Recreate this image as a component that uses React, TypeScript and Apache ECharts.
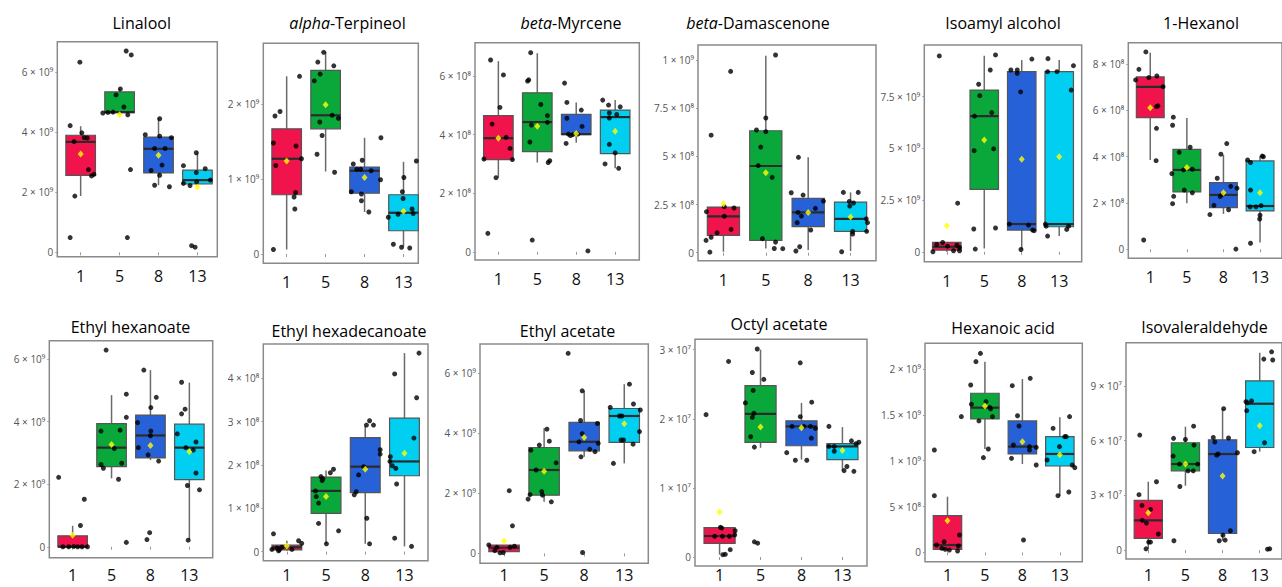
import React, { useEffect, useRef } from 'react';
import * as echarts from 'echarts';

// ---------- data ----------
const categories = ['1', '5', '8', '13'];

// each box: [lower whisker, Q1, median, Q3, upper whisker]; points: [group position + jitter, value]
// Linalool (x 1e9)
const linaloolBox = [[1.87, 2.56, 3.67, 3.89, 4.19], [4.57, 4.64, 4.66, 5.33, 5.43], [2.23, 2.64, 3.44, 3.83, 4.47], [2.22, 2.27, 2.40, 2.73, 3.31]];
const linaloolMean = [3.27, 4.57, 3.23, 2.17];
const linaloolPts = [
  [0.73, 0.49], [0.98, 6.32], [0.73, 4.21], [0.85, 1.87], [0.83, 3.68], [1.03, 3.97], [1.09, 3.81], [1.17, 3.80], [1.2, 2.75], [1.28, 2.54], [1.34, 2.59],
  [2.17, 6.69], [2.3, 6.56], [1.91, 5.23], [2.02, 5.43], [2.11, 4.83], [1.57, 4.63], [1.7, 4.65], [1.83, 4.66], [2.21, 4.57], [2.28, 2.75], [2.2, 0.49],
  [3.03, 4.44], [2.66, 3.91], [3.03, 3.86], [2.9, 3.45], [3.17, 3.45], [3.33, 3.81], [2.81, 2.72], [3.03, 2.56], [3.09, 2.90], [2.9, 2.23], [3.28, 2.18],
  [3.97, 3.31], [3.64, 2.88], [3.97, 2.65], [4.2, 2.78], [4.33, 2.40], [3.64, 2.29], [3.81, 2.22], [3.98, 2.34], [3.85, 0.22], [3.94, 0.17],
];
const linaloolTicks = [0, 2, 4, 6];

// alpha-Terpineol (x 1e9)
const terpineolBox = [[0.06, 0.79, 1.27, 1.67, 2.37], [1.10, 1.67, 1.85, 2.45, 2.70], [0.56, 0.81, 1.11, 1.16, 1.55], [0.10, 0.31, 0.55, 0.79, 1.23]];
const terpineolMean = [1.24, 1.99, 1.02, 0.57];
const terpineolPts = [
  [1.33, 2.37], [0.7, 1.84], [0.83, 1.90], [0.66, 1.48], [1.24, 1.44], [0.72, 1.18], [1.38, 1.27], [1.23, 0.82], [1.19, 0.76], [1.21, 0.60], [0.66, 0.06],
  [1.95, 2.69], [1.8, 2.56], [2.21, 2.51], [1.86, 2.40], [1.71, 2.31], [2.17, 1.85], [2.33, 1.81], [1.85, 1.76], [1.91, 1.58], [1.78, 1.33], [2.23, 1.09],
  [3.42, 1.55], [2.94, 1.25], [2.71, 1.20], [2.9, 1.13], [3.17, 1.11], [3.41, 0.99], [2.66, 0.83], [2.92, 0.80], [2.92, 0.71], [3.11, 0.56], [2.8, 1.13],
  [4.33, 1.24], [4.01, 1.02], [3.97, 0.83], [3.99, 0.74], [3.61, 0.49], [3.86, 0.53], [4.22, 0.60], [4.25, 0.54], [3.74, 0.13], [3.95, 0.09], [4.16, 0.08],
];
const terpineolTicks = [0, 1, 2];

// beta-Myrcene (x 1e8)
const myrceneBox = [[2.53, 3.15, 3.88, 4.65, 6.51], [3.05, 3.42, 4.43, 5.43, 6.78], [3.72, 4.00, 4.02, 4.69, 5.10], [2.85, 3.35, 4.60, 4.84, 5.18]];
const myrceneMean = [3.88, 4.29, 4.04, 4.12];
const myrcenePts = [
  [0.8, 6.55], [1.13, 6.04], [1.04, 4.93], [0.84, 4.36], [1.2, 3.91], [1.3, 3.53], [0.63, 3.17], [1.36, 3.15], [0.94, 2.53], [0.73, 0.63],
  [1.83, 6.80], [1.75, 5.83], [1.78, 5.87], [2.09, 5.03], [2.26, 4.65], [2.26, 4.42], [1.85, 4.33], [1.81, 3.75], [2.28, 3.05], [2.32, 3.11], [1.87, 0.40],
  [2.7, 5.76], [2.76, 5.10], [3.13, 4.84], [2.76, 4.56], [3.15, 4.28], [2.8, 4.02], [2.91, 4.00], [3.04, 4.02], [2.85, 3.97], [2.74, 3.70], [3.3, 0.03],
  [3.68, 5.18], [3.83, 5.01], [4.13, 4.95], [3.85, 4.74], [4.04, 4.69], [3.85, 4.57], [3.85, 3.67], [4.0, 3.38], [3.74, 3.0], [4.09, 2.85],
];
const myrceneTicks = [0, 2, 4, 6];

// beta-Damascenone (x 1e8)
const damascenoneBox = [[0.05, 0.90, 1.89, 2.37, 2.39], [0.22, 0.64, 4.50, 6.33, 10.22], [0.14, 1.35, 2.09, 2.82, 4.95], [0.09, 1.11, 1.76, 2.63, 3.13]];
const damascenoneMean = [2.54, 4.15, 2.09, 1.85];
const damascenonePts = [
  [0.71, 6.1], [1.17, 9.41], [0.6, 2.13], [1.02, 2.39], [1.25, 2.32], [1.02, 1.89], [0.85, 1.04], [1.18, 1.21], [0.71, 0.80], [0.59, 0.64], [0.68, 0.03],
  [2.23, 10.26], [2.0, 6.99], [1.78, 6.37], [2.0, 6.28], [1.88, 5.48], [1.82, 4.52], [2.15, 3.91], [1.92, 0.73], [2.23, 0.55], [2.2, 0.22], [2.4, 0.21],
  [2.77, 4.95], [2.6, 3.11], [2.88, 2.99], [2.76, 2.09], [2.84, 1.90], [3.17, 2.30], [3.36, 2.68], [2.74, 1.56], [3.06, 1.18], [2.8, 0.31], [2.71, 0.09],
  [3.83, 3.13], [4.18, 3.13], [3.97, 2.66], [4.07, 2.58], [3.98, 2.42], [4.37, 1.76], [4.4, 1.56], [4.38, 1.11], [4.05, 1.11], [4.05, 0.97], [3.79, 0.05],
];
const damascenoneTicks = [0, 2.5, 5, 7.5, 10];

// Isoamyl alcohol (x 1e9)
const isoamylBox = [[0.0, 0.08, 0.24, 0.45, 0.45], [0.16, 3.02, 6.56, 7.82, 9.48], [0.11, 1.05, 1.34, 8.71, 9.27], [0.76, 1.21, 1.34, 8.71, 9.27]];
const isoamylMean = [1.26, 5.40, 4.47, 4.60];
const isoamylPts = [
  [0.8, 9.47], [1.29, 2.35], [0.73, 0.35], [0.89, 0.45], [1.02, 0.27], [1.27, 0.32], [1.34, 0.21], [1.18, 0.05], [1.34, 0.05], [0.63, 0.0],
  [2.3, 9.52], [2.16, 8.79], [1.85, 8.10], [1.88, 7.55], [1.74, 6.56], [2.2, 6.73], [2.25, 4.98], [1.73, 4.89], [2.3, 1.15], [1.72, 1.10], [1.76, 0.13],
  [3.27, 9.32], [2.71, 8.79], [2.88, 8.79], [2.88, 8.63], [2.97, 7.73], [2.67, 1.34], [3.18, 1.29], [3.29, 1.05], [3.33, 1.02], [2.98, 0.11],
  [3.7, 9.34], [4.38, 9.0], [3.69, 8.71], [3.94, 8.71], [4.32, 7.82], [3.63, 1.34], [3.65, 1.24], [4.25, 1.24], [4.2, 1.08], [3.69, 0.76],
];
const isoamylTicks = [0, 2.5, 5, 7.5];

// 1-Hexanol (x 1e8)
const hexanolBox = [[3.86, 5.69, 7.02, 7.45, 8.50], [1.99, 2.48, 3.43, 4.32, 5.68], [1.53, 1.80, 2.35, 2.88, 4.08], [0.29, 1.66, 1.87, 3.82, 4.03]];
const hexanolMean = [6.12, 3.54, 2.44, 2.44];
const hexanolPts = [
  [0.88, 8.53], [0.69, 7.78], [0.6, 7.32], [0.96, 7.42], [1.18, 7.49], [1.35, 7.03], [1.17, 6.17], [1.21, 6.20], [1.17, 5.23], [1.16, 3.83], [0.82, 0.40],
  [1.63, 5.71], [1.61, 5.36], [2.09, 4.41], [1.79, 4.19], [1.59, 3.27], [1.91, 3.43], [2.15, 3.46], [1.93, 2.56], [2.15, 2.44], [1.64, 2.29], [1.61, 1.97],
  [3.09, 4.57], [2.93, 4.11], [2.83, 3.07], [3.2, 2.72], [3.37, 2.64], [2.74, 1.90], [2.91, 2.28], [2.96, 2.36], [3.14, 1.71], [2.63, 1.50], [3.34, 0.01],
  [3.66, 3.86], [3.74, 3.75], [4.06, 4.03], [4.09, 4.0], [3.74, 2.56], [3.73, 1.83], [3.89, 1.83], [4.03, 1.89], [4.0, 1.47], [3.99, 1.31], [3.74, 0.26],
];
const hexanolTicks = [0, 2, 4, 6, 8];

// Ethyl hexanoate (x 1e9)
const hexanoateBox = [[0.0, 0.0, 0.0, 0.35, 0.67], [2.19, 2.56, 3.17, 3.94, 4.85], [2.77, 2.84, 3.56, 4.21, 5.65], [0.23, 2.15, 3.17, 3.92, 5.25]];
const hexanoateMean = [0.37, 3.27, 3.24, 3.04];
const hexanoatePts = [
  [0.64, 2.22], [1.3, 1.52], [1.2, 0.68], [0.75, 0.0], [0.9, 0.0], [1.03, 0.01], [1.13, 0.0], [1.24, 0.0], [1.38, 0.0],
  [1.86, 6.29], [2.38, 4.88], [2.38, 4.14], [1.73, 3.70], [2.22, 3.73], [2.07, 3.14], [1.73, 2.63], [1.79, 2.51], [2.26, 2.67], [2.18, 2.16], [2.38, 0.14],
  [2.83, 5.65], [3.15, 4.78], [3.01, 4.45], [2.67, 3.97], [3.01, 3.70], [3.0, 3.55], [2.69, 3.17], [2.94, 2.94], [3.21, 2.74], [2.98, 0.45], [2.91, 0.23],
  [3.8, 5.26], [3.89, 4.40], [3.8, 4.25], [3.69, 3.61], [3.91, 3.17], [4.1, 3.09], [4.17, 3.35], [4.17, 2.36], [3.95, 1.96], [4.26, 1.82], [3.97, 0.21],
];
const hexanoateTicks = [0, 2, 4, 6];

// Ethyl hexadecanoate (x 1e8)
const hexadecanoateBox = [[0.02, 0.04, 0.10, 0.15, 0.25], [0.18, 0.88, 1.40, 1.72, 1.87], [0.18, 1.36, 1.96, 2.63, 2.90], [0.12, 1.75, 2.08, 3.08, 4.58]];
const hexadecanoateMean = [0.13, 1.27, 1.90, 2.27];
const hexadecanoatePts = [
  [0.66, 0.41], [1.3, 0.25], [1.38, 0.19], [0.62, 0.05], [0.75, 0.08], [0.79, 0.02], [0.87, 0.10], [1.13, 0.05], [0.81, 0.04],
  [2.19, 1.90], [2.11, 1.82], [1.87, 1.73], [1.92, 1.68], [1.9, 1.64], [1.73, 1.40], [1.75, 1.27], [1.81, 1.12], [1.81, 0.65], [2.32, 0.48], [2.01, 0.18],
  [3.11, 3.02], [3.21, 2.92], [3.03, 2.92], [3.38, 2.35], [3.38, 2.25], [2.96, 1.96], [2.83, 1.77], [2.77, 1.38], [2.72, 1.31], [3.04, 0.77], [3.11, 0.18],
  [4.37, 4.58], [3.75, 4.10], [4.31, 3.55], [4.24, 2.62], [3.64, 2.19], [3.69, 1.98], [3.78, 1.92], [3.8, 1.56], [3.75, 0.31], [4.18, 0.12], [3.63, 2.08],
];
const hexadecanoateTicks = [0, 1, 2, 3, 4];

// Ethyl acetate (x 1e9)
const ethylAcetateBox = [[0.02, 0.06, 0.19, 0.28, 0.28], [1.72, 1.94, 2.78, 3.53, 4.17], [3.22, 3.42, 3.72, 4.37, 5.42], [3.0, 3.70, 4.58, 4.83, 5.64]];
const ethylAcetateMean = [0.41, 2.74, 3.86, 4.32];
const ethylAcetatePts = [
  [1.13, 2.09], [1.21, 0.92], [0.62, 0.28], [0.82, 0.20], [1.15, 0.20], [1.26, 0.24], [0.77, 0.09], [0.9, 0.02], [0.98, 0.03],
  [2.07, 4.14], [1.88, 3.61], [2.13, 3.74], [1.67, 3.44], [2.3, 3.02], [1.8, 2.78], [1.94, 2.06], [1.96, 1.94], [1.65, 1.96], [1.6, 1.81], [2.18, 1.72],
  [2.6, 6.67], [2.95, 5.42], [2.91, 4.43], [3.33, 4.33], [2.95, 3.99], [2.87, 3.72], [3.35, 3.67], [3.14, 3.47], [3.27, 3.39], [2.92, 3.22], [2.96, 0.03],
  [4.13, 5.64], [4.23, 4.98], [3.65, 4.87], [4.4, 4.78], [3.88, 4.58], [3.94, 4.58], [4.38, 4.06], [3.92, 3.78], [4.22, 3.64], [3.73, 3.0], [3.98, 3.78],
];
const ethylAcetateTicks = [0, 2, 4, 6];

// Octyl acetate (x 1e7)
const octylBox = [[0.034, 0.198, 0.304, 0.425, 0.425], [1.58, 1.66, 2.07, 2.48, 3.0], [1.41, 1.61, 1.89, 1.97, 2.23], [1.25, 1.41, 1.60, 1.64, 1.88]];
const octylMean = [0.65, 1.88, 1.87, 1.54];
const octylPts = [
  [0.67, 2.06], [1.22, 2.83], [1.02, 0.43], [1.05, 0.42], [0.88, 0.30], [1.07, 0.30], [1.24, 0.30], [1.38, 0.38], [1.37, 0.32], [1.26, 0.106], [1.08, 0.034], [1.14, 0.039],
  [1.92, 3.01], [1.8, 2.67], [2.08, 2.57], [1.82, 2.41], [1.63, 2.23], [1.84, 2.08], [1.8, 2.02], [1.76, 1.74], [1.85, 1.59], [1.85, 0.22], [1.93, 0.20],
  [2.97, 2.81], [3.25, 2.24], [2.97, 2.03], [2.77, 1.89], [3.06, 1.89], [3.22, 1.89], [3.34, 1.86], [3.24, 1.72], [2.64, 1.51], [2.85, 1.40], [3.13, 1.40],
  [3.67, 1.89], [3.67, 1.60], [3.8, 1.60], [3.8, 1.53], [4.22, 1.68], [4.33, 1.64], [4.4, 1.66], [4.11, 1.31], [4.04, 1.25], [4.28, 1.24],
];
const octylTicks = [0, 1, 2, 3];

// Hexanoic acid (x 1e8)
const hexanoicBox = [[0.15, 0.33, 0.8, 4.0, 6.07], [11.27, 14.55, 15.78, 17.35, 20.8], [9.64, 10.73, 11.53, 14.33, 18.9], [6.15, 9.42, 10.73, 12.62, 14.73]];
const hexanoicMean = [3.45, 15.96, 12.07, 10.65];
const hexanoicPts = [
  [0.65, 11.16], [0.65, 6.18], [1.32, 1.89], [0.91, 1.16], [0.71, 0.80], [1.29, 0.69], [0.85, 0.44], [0.94, 0.33], [1.05, 0.25], [1.27, 0.15], [1.37, 14.8],
  [1.88, 21.7], [1.76, 20.8], [1.62, 18.25], [1.64, 16.15], [2.03, 16.44], [2.13, 15.82], [2.15, 15.64], [2.2, 14.8], [1.84, 14.33], [2.09, 11.27], [1.96, 10.33],
  [3.21, 18.98], [2.73, 18.18], [2.87, 14.9], [2.91, 13.78], [2.76, 11.71], [3.19, 11.53], [3.37, 11.45], [3.19, 11.16], [2.71, 10.25], [3.37, 9.53], [3.03, 1.35],
  [4.26, 14.8], [3.82, 13.53], [4.13, 12.62], [4.17, 12.62], [3.99, 11.53], [3.66, 10.07], [4.33, 9.53], [4.4, 9.24], [3.95, 6.18], [4.24, 6.58],
];
const hexanoicTicks = [0, 5, 10, 15, 20];

// Isovaleraldehyde (x 1e7)
const isovalBox = [[0.07, 0.64, 1.63, 2.73, 3.75], [3.53, 4.35, 4.72, 5.89, 6.77], [0.51, 0.91, 5.27, 6.05, 7.76], [5.40, 5.63, 8.03, 9.29, 10.83]];
const isovalMean = [2.05, 4.72, 4.06, 6.82];
const isovalPts = [
  [0.77, 6.31], [1.22, 3.75], [0.75, 3.04], [0.83, 2.45], [1.06, 2.23], [0.84, 1.63], [0.95, 1.48], [1.27, 0.88], [1.01, 0.44], [1.06, 0.44], [0.94, 0.07],
  [2.22, 6.80], [1.68, 6.13], [2.0, 6.07], [2.23, 5.76], [1.67, 5.16], [1.84, 4.72], [2.33, 4.72], [2.07, 4.35], [2.21, 4.35], [1.85, 3.49], [1.69, 0.51],
  [3.03, 7.76], [2.75, 6.18], [3.16, 6.15], [2.79, 5.93], [2.84, 5.21], [2.88, 5.27], [3.4, 5.34], [3.21, 1.06], [3.01, 0.82], [3.07, 0.55], [2.91, 0.51],
  [4.32, 10.88], [4.35, 10.43], [4.11, 10.48], [3.63, 8.14], [3.78, 8.19], [3.67, 8.08], [3.65, 7.65], [4.13, 5.89], [3.85, 5.40], [4.21, 0.05], [4.27, 0.07],
];
const isovalTicks = [0, 3, 6, 9];

const panels = [
  { italic: '', name: 'Linalool', scale: 1e9, box: linaloolBox, mean: linaloolMean, pts: linaloolPts, ticks: linaloolTicks },
  { italic: 'alpha', name: '-Terpineol', scale: 1e9, box: terpineolBox, mean: terpineolMean, pts: terpineolPts, ticks: terpineolTicks },
  { italic: 'beta', name: '-Myrcene', scale: 1e8, box: myrceneBox, mean: myrceneMean, pts: myrcenePts, ticks: myrceneTicks },
  { italic: 'beta', name: '-Damascenone', scale: 1e8, box: damascenoneBox, mean: damascenoneMean, pts: damascenonePts, ticks: damascenoneTicks },
  { italic: '', name: 'Isoamyl alcohol', scale: 1e9, box: isoamylBox, mean: isoamylMean, pts: isoamylPts, ticks: isoamylTicks },
  { italic: '', name: '1-Hexanol', scale: 1e8, box: hexanolBox, mean: hexanolMean, pts: hexanolPts, ticks: hexanolTicks },
  { italic: '', name: 'Ethyl hexanoate', scale: 1e9, box: hexanoateBox, mean: hexanoateMean, pts: hexanoatePts, ticks: hexanoateTicks },
  { italic: '', name: 'Ethyl hexadecanoate', scale: 1e8, box: hexadecanoateBox, mean: hexadecanoateMean, pts: hexadecanoatePts, ticks: hexadecanoateTicks },
  { italic: '', name: 'Ethyl acetate', scale: 1e9, box: ethylAcetateBox, mean: ethylAcetateMean, pts: ethylAcetatePts, ticks: ethylAcetateTicks },
  { italic: '', name: 'Octyl acetate', scale: 1e7, box: octylBox, mean: octylMean, pts: octylPts, ticks: octylTicks },
  { italic: '', name: 'Hexanoic acid', scale: 1e8, box: hexanoicBox, mean: hexanoicMean, pts: hexanoicPts, ticks: hexanoicTicks },
  { italic: '', name: 'Isovaleraldehyde', scale: 1e7, box: isovalBox, mean: isovalMean, pts: isovalPts, ticks: isovalTicks },
];

// ---------- layout (pixels / axis ranges) ----------
const layout = [
  { left: 57.3, top: 41.7, width: 160, height: 215, xMax: 4.51, yMin: -0.146, yMax: 7.0, tx: 141.7, ty: 22.7 },
  { left: 263.3, top: 43.3, width: 155, height: 220, xMax: 4.38, yMin: -0.124, yMax: 2.81, tx: 347.5, ty: 22.7 },
  { left: 475, top: 42.7, width: 164.3, height: 217.3, xMax: 4.62, yMin: -0.28, yMax: 7.14, tx: 571, ty: 23.3 },
  { left: 698, top: 45, width: 178, height: 215.7, xMax: 4.6, yMin: -0.415, yMax: 10.78, tx: 758, ty: 23 },
  { left: 924.3, top: 45, width: 157.4, height: 216.7, xMax: 4.6, yMin: -0.48, yMax: 10.0, tx: 1003, ty: 23 },
  { left: 1128.3, top: 42.7, width: 164.6, height: 215.6, xMax: 4.6, yMin: -0.39, yMax: 8.93, tx: 1201, ty: 23 },
  { left: 49.3, top: 340.7, width: 163.4, height: 217, xMax: 4.6, yMin: -0.35, yMax: 6.59, tx: 130.5, ty: 326.7 },
  { left: 263.3, top: 344, width: 164.7, height: 216.7, xMax: 4.6, yMin: -0.21, yMax: 4.79, tx: 349, ty: 330.7 },
  { left: 480, top: 344, width: 168.3, height: 219.3, xMax: 4.6, yMin: -0.33, yMax: 6.98, tx: 567.5, ty: 330.7 },
  { left: 695, top: 339.3, width: 172, height: 226.7, xMax: 4.6, yMin: -0.13, yMax: 3.15, tx: 779, ty: 324 },
  { left: 925, top: 343.3, width: 157.3, height: 218.4, xMax: 4.6, yMin: -1.02, yMax: 22.8, tx: 1003, ty: 328.3 },
  { left: 1126, top: 342.7, width: 163, height: 216.3, xMax: 4.6, yMin: -0.49, yMax: 11.38, tx: 1204.5, ty: 327.3 },
];

const groupColors = ['#F1134C', '#0AA83B', '#2761D8', '#00CFF2'];
const HALF_BOX = 0.38;
const SUP = '⁰¹²³⁴⁵⁶⁷⁸⁹';
const FONT = '"Open Sans", "Noto Sans", "DejaVu Sans", sans-serif';
const LABEL_TOP_LIMIT = 567; // keep x labels fully inside the 587px page

function sciLabel(v: number): string {
  if (Math.abs(v) < 1e-6) return '0';
  const e = Math.floor(Math.log10(v) + 1e-9);
  const m = +(v / Math.pow(10, e)).toFixed(2);
  const es = String(e).split('').map((d) => SUP[+d]).join('');
  return `${m} × 10${es}`;
}

function buildOption() {
  const grid: any[] = [];
  const xAxis: any[] = [];
  const yAxis: any[] = [];
  const series: any[] = [];
  const graphic: any[] = [];

  panels.forEach((p, i) => {
    const L = layout[i];
    const gridBottom = L.top + L.height;
    const labelMargin = Math.max(1, Math.min(11, LABEL_TOP_LIMIT - gridBottom));
    grid.push({
      left: L.left, top: L.top, width: L.width, height: L.height,
      show: true, borderColor: '#8a8a8a', borderWidth: 1.5, backgroundColor: 'transparent',
    });
    xAxis.push({
      gridIndex: i, type: 'value', min: 0.4, max: L.xMax,
      axisLine: { show: false }, splitLine: { show: false },
      axisTick: { show: true, customValues: [1, 2, 3, 4], length: 3, lineStyle: { color: '#999', width: 1 } },
      axisLabel: {
        customValues: [1, 2, 3, 4],
        formatter: (v: number) => categories[Math.round(v) - 1] ?? '',
        fontSize: 16, color: '#111', margin: labelMargin, fontFamily: FONT,
      },
    });
    yAxis.push({
      gridIndex: i, type: 'value', min: L.yMin * p.scale, max: L.yMax * p.scale,
      axisLine: { show: false }, splitLine: { show: false },
      axisTick: { show: true, customValues: p.ticks.map((t) => t * p.scale), length: 2, lineStyle: { color: '#999', width: 1 } },
      axisLabel: {
        customValues: p.ticks.map((t) => t * p.scale),
        formatter: (v: number) => sciLabel(v),
        fontSize: 10, color: '#555', margin: 4, fontFamily: FONT,
      },
    });
    series.push({
      type: 'custom', xAxisIndex: i, yAxisIndex: i, z: 2, silent: true,
      encode: { x: 0, y: [1, 2, 3, 4, 5] },
      data: p.box.map((b, g) => [g + 1, ...b.map((v) => v * p.scale)]),
      renderItem: (params: any, api: any) => {
        const x = api.value(0);
        const lo = api.value(1), q1 = api.value(2), md = api.value(3), q3 = api.value(4), hi = api.value(5);
        const pLo = api.coord([x, lo]);
        const pQ1 = api.coord([x, q1]);
        const pMd = api.coord([x, md]);
        const pQ3 = api.coord([x, q3]);
        const pHi = api.coord([x, hi]);
        const l = api.coord([x - HALF_BOX, md])[0];
        const r = api.coord([x + HALF_BOX, md])[0];
        const color = groupColors[(Math.round(x) - 1) % 4];
        return {
          type: 'group',
          children: [
            { type: 'line', shape: { x1: pHi[0], y1: pHi[1], x2: pQ3[0], y2: pQ3[1] }, style: { stroke: '#6b6b6b', lineWidth: 1.5 } },
            { type: 'line', shape: { x1: pLo[0], y1: pLo[1], x2: pQ1[0], y2: pQ1[1] }, style: { stroke: '#6b6b6b', lineWidth: 1.5 } },
            { type: 'rect', shape: { x: l, y: pQ3[1], width: r - l, height: Math.max(pQ1[1] - pQ3[1], 1) }, style: { fill: color, stroke: '#555', lineWidth: 1.2 } },
            { type: 'line', shape: { x1: l, y1: pMd[1], x2: r, y2: pMd[1] }, style: { stroke: '#2b2b2b', lineWidth: 2.2 } },
          ],
        };
      },
    });
    series.push({
      type: 'scatter', xAxisIndex: i, yAxisIndex: i, z: 3, silent: true,
      symbol: 'circle', symbolSize: 5,
      itemStyle: { color: '#000' },
      data: p.pts.map(([x, y]) => [x, y * p.scale]),
    });
    series.push({
      type: 'scatter', xAxisIndex: i, yAxisIndex: i, z: 4, silent: true,
      symbol: 'diamond', symbolSize: [6, 7],
      itemStyle: { color: '#FFFF00' },
      data: p.mean.map((m, g) => [g + 1, m * p.scale]),
    });

    const base = { fontSize: 16, fontFamily: FONT, color: '#1e1e1e' };
    graphic.push({
      type: 'text', x: L.tx, y: L.ty, silent: true,
      style: p.italic
        ? {
            text: `{i|${p.italic}}{n|${p.name}}`,
            rich: { i: { ...base, fontStyle: 'italic' }, n: { ...base } },
            align: 'center', verticalAlign: 'middle',
          }
        : { text: p.name, ...base, align: 'center', verticalAlign: 'middle' },
    });
  });

  return {
    animation: false,
    backgroundColor: '#fff',
    textStyle: { fontFamily: FONT },
    grid, xAxis, yAxis, series, graphic,
  };
}

export default function App() {
  const ref = useRef<HTMLDivElement>(null);
  useEffect(() => {
    if (!ref.current) return;
    const chart = echarts.init(ref.current, undefined, { renderer: 'svg' });
    chart.setOption(buildOption() as any);
    return () => chart.dispose();
  }, []);
  return (
    <div
      ref={ref}
      style={{ position: 'fixed', left: 0, top: 0, width: 1282, height: 587, background: '#fff' }}
    />
  );
}
